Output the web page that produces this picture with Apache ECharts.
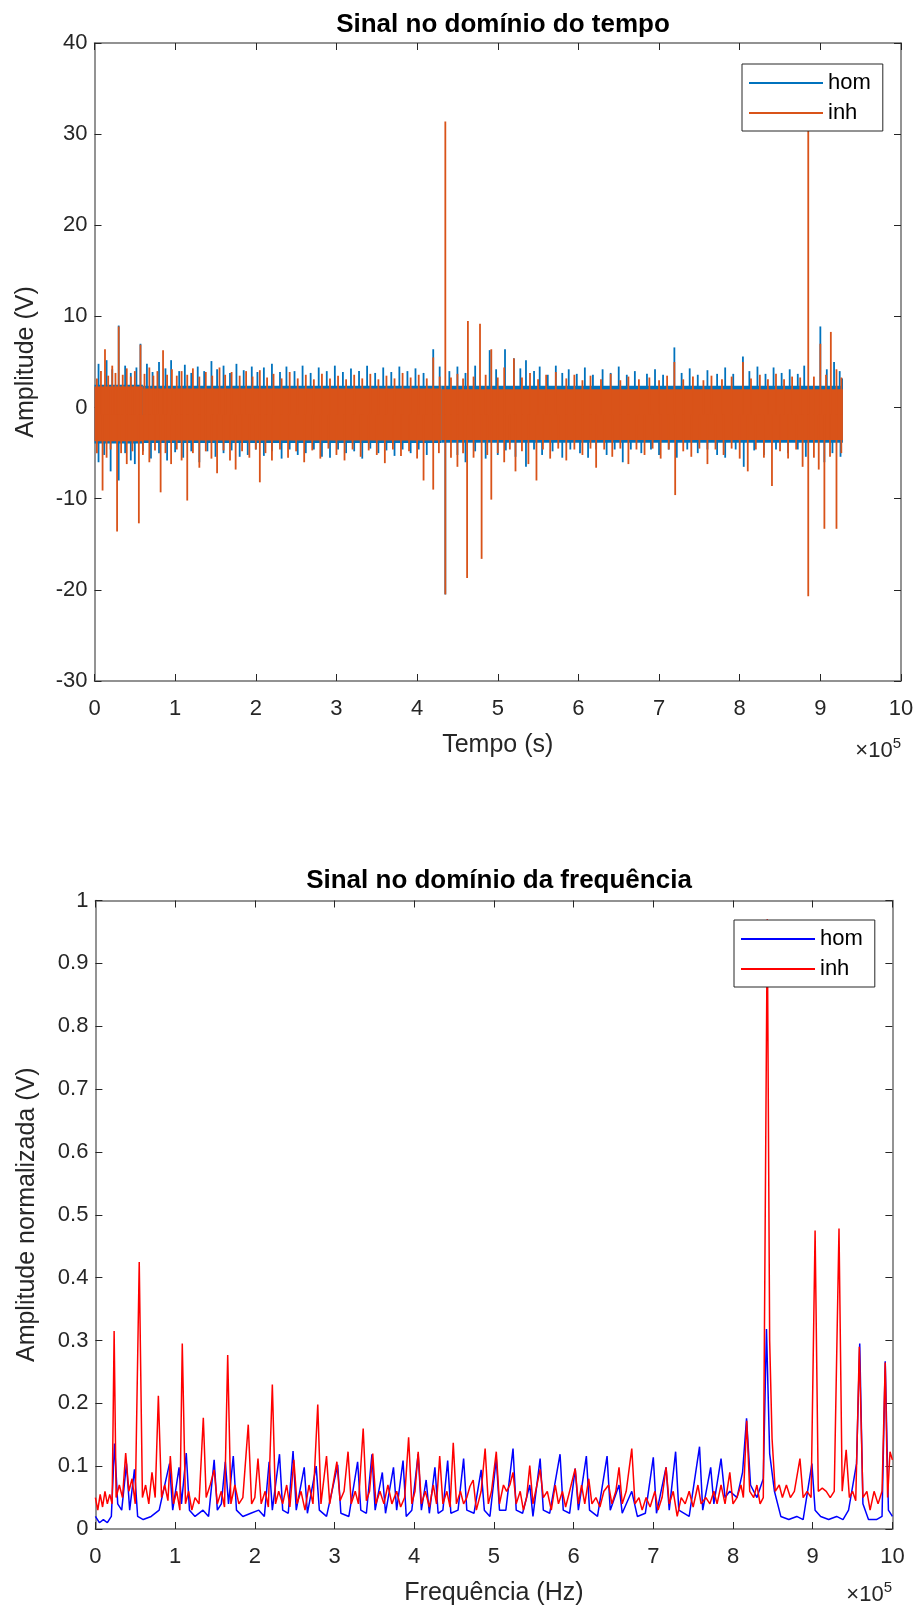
<!DOCTYPE html>
<html><head><meta charset="utf-8">
<script src="https://cdn.jsdelivr.net/npm/echarts/dist/echarts.min.js"></script>
<style>html,body{margin:0;padding:0;background:#fff}#c{width:918px;height:1610px}</style>
</head><body><div id="c"></div>
<script>
// ---------- DATA (time axis and frequency axis in units of 1e5) ----------
const seriesNames = ['hom', 'inh'];
const xTickLabels = ['0','1','2','3','4','5','6','7','8','9','10'];

// Time-domain signal: dense core band (segments) + individual excursions
const bandX = [0, 0.6, 4.3, 9.28];
const homHi = [2.5, 2.4, 2.4];
const homLo = [-3.95, -3.9, -3.85];
const inhHi = [2.3, 2.1, 2.0];
const inhLo = [-3.7, -3.6, -3.55];

const homUp = [[0.05,4.8],[0.15,5.2],[0.22,4.2],[0.3,9.0],[0.38,4.6],[0.45,3.8],[0.52,4.4],[0.57,7.0],[0.65,4.8],[0.72,3.9],[0.8,5.0],[0.88,4.3],[0.95,5.2],[1.05,4.0],[1.12,4.7],[1.2,3.8],[1.28,4.5],[1.36,4.0],[1.45,5.1],[1.52,4.2],[1.6,4.6],[1.68,3.8],[1.76,4.8],[1.85,4.1],[1.95,4.5],[2.02,3.9],[2.1,4.4],[2.2,4.8],[2.3,3.9],[2.38,4.5],[2.48,4.0],[2.58,4.6],[2.68,3.8],[2.78,4.4],[2.88,4.0],[2.98,4.6],[3.08,3.9],[3.18,4.3],[3.28,4.0],[3.38,4.6],[3.48,3.8],[3.58,4.4],[3.68,3.9],[3.78,4.5],[3.88,4.0],[3.98,4.3],[4.08,3.8],[4.2,6.4],[4.28,4.5],[4.4,4.0],[4.5,4.5],[4.6,3.8],[4.72,4.6],[4.9,6.3],[4.98,4.2],[5.09,6.4],[5.2,5.4],[5.28,4.3],[5.35,5.2],[5.45,4.0],[5.52,4.5],[5.62,3.6],[5.72,4.6],[5.8,3.8],[5.88,4.2],[5.98,3.7],[6.08,4.4],[6.18,3.6],[6.3,4.2],[6.4,3.8],[6.5,4.5],[6.6,3.6],[6.7,4.0],[6.85,3.7],[6.95,4.2],[7.05,3.6],[7.19,6.6],[7.28,3.8],[7.38,4.3],[7.48,3.6],[7.6,4.1],[7.72,3.7],[7.82,4.4],[7.92,3.7],[8.04,5.6],[8.12,4.0],[8.22,4.5],[8.32,3.7],[8.42,4.4],[8.52,3.8],[8.62,4.2],[8.72,3.7],[8.8,4.6],[9.0,8.9],[9.08,4.2],[9.17,5.0],[9.24,4.0],[9.27,3.2]];
const homDown = [[0.05,-6.0],[0.12,-5.2],[0.2,-7.0],[0.3,-8.0],[0.38,-5.0],[0.45,-5.8],[0.5,-6.2],[0.6,-4.8],[0.7,-5.6],[0.8,-5.0],[0.9,-5.8],[1.0,-4.9],[1.1,-5.5],[1.2,-4.8],[1.3,-6.0],[1.4,-4.8],[1.5,-5.4],[1.6,-5.0],[1.7,-4.7],[1.8,-5.4],[1.9,-5.2],[2.0,-4.6],[2.1,-5.3],[2.2,-4.8],[2.32,-5.6],[2.42,-4.6],[2.52,-5.2],[2.62,-5.0],[2.72,-4.6],[2.82,-5.4],[2.92,-5.5],[3.02,-4.6],[3.12,-5.0],[3.22,-4.8],[3.32,-5.6],[3.42,-4.5],[3.52,-5.0],[3.62,-4.7],[3.72,-5.3],[3.82,-4.6],[3.92,-5.0],[4.02,-4.6],[4.12,-5.2],[4.35,-20.5],[4.5,-5.2],[4.6,-6.0],[4.72,-4.8],[4.85,-5.6],[5.0,-5.2],[5.1,-4.7],[5.22,-5.4],[5.35,-6.5],[5.45,-4.6],[5.55,-5.2],[5.68,-4.8],[5.8,-5.5],[5.9,-4.6],[6.02,-5.0],[6.12,-5.5],[6.22,-4.6],[6.35,-5.2],[6.45,-4.6],[6.55,-6.0],[6.65,-4.6],[6.78,-5.0],[6.9,-4.6],[7.0,-5.2],[7.12,-4.6],[7.22,-5.5],[7.35,-4.6],[7.48,-5.0],[7.6,-4.6],[7.72,-5.2],[7.82,-5.5],[7.95,-4.6],[8.05,-6.5],[8.18,-4.7],[8.3,-5.2],[8.45,-4.6],[8.6,-5.0],[8.72,-4.6],[8.82,-5.4],[9.05,-6.0],[9.15,-5.0],[9.25,-5.4]];
const inhUp = [[0.03,3.2],[0.08,4.0],[0.13,6.4],[0.17,3.5],[0.22,4.6],[0.26,3.8],[0.3,8.9],[0.35,3.6],[0.4,4.3],[0.45,3.4],[0.5,4.0],[0.57,6.9],[0.62,3.7],[0.68,4.4],[0.73,3.5],[0.78,4.0],[0.85,6.3],[0.9,3.6],[0.96,4.2],[1.02,3.5],[1.08,4.0],[1.15,3.6],[1.22,4.3],[1.3,3.4],[1.38,3.9],[1.46,3.5],[1.55,4.4],[1.62,3.6],[1.7,3.9],[1.8,3.5],[1.88,4.0],[1.96,3.4],[2.05,4.1],[2.14,3.3],[2.22,3.7],[2.32,3.2],[2.42,3.9],[2.52,3.2],[2.62,3.6],[2.72,3.1],[2.82,3.7],[2.92,3.2],[3.02,3.5],[3.12,3.1],[3.22,3.6],[3.32,3.2],[3.42,3.7],[3.52,3.1],[3.62,3.5],[3.72,3.2],[3.82,3.8],[3.92,3.3],[4.02,3.6],[4.12,3.2],[4.2,5.5],[4.28,3.4],[4.35,31.4],[4.42,3.3],[4.5,3.7],[4.57,3.2],[4.63,9.5],[4.7,3.4],[4.78,9.2],[4.85,3.6],[4.92,6.4],[5.0,3.3],[5.08,4.4],[5.2,5.4],[5.3,3.3],[5.4,3.8],[5.5,3.1],[5.6,3.6],[5.72,3.9],[5.85,3.2],[5.95,3.6],[6.05,3.0],[6.15,3.5],[6.28,3.1],[6.4,3.7],[6.52,3.0],[6.62,3.4],[6.75,3.1],[6.88,3.3],[7.0,3.0],[7.1,3.5],[7.19,5.0],[7.3,3.1],[7.42,3.4],[7.55,3.0],[7.65,3.5],[7.78,3.1],[7.9,3.4],[8.04,5.0],[8.14,3.2],[8.25,3.6],[8.35,3.1],[8.45,3.7],[8.55,3.1],[8.65,3.4],[8.75,3.3],[8.85,31.2],[8.92,3.4],[9.0,7.0],[9.07,3.6],[9.13,8.3],[9.2,4.2],[9.26,3.3]];
const inhDown = [[0.03,-5.0],[0.1,-9.1],[0.15,-5.5],[0.2,-4.6],[0.28,-13.6],[0.33,-5.0],[0.4,-6.2],[0.47,-4.8],[0.55,-12.7],[0.6,-5.2],[0.68,-6.0],[0.75,-4.7],[0.82,-9.3],[0.88,-5.0],[0.95,-6.2],[1.02,-4.6],[1.08,-5.8],[1.15,-10.2],[1.22,-5.0],[1.3,-6.6],[1.38,-4.8],[1.45,-5.6],[1.52,-7.2],[1.6,-4.7],[1.68,-5.8],[1.75,-6.8],[1.83,-4.8],[1.92,-5.5],[2.0,-4.6],[2.05,-8.2],[2.12,-5.0],[2.2,-5.8],[2.3,-4.6],[2.4,-5.5],[2.5,-4.8],[2.6,-6.0],[2.7,-4.7],[2.8,-5.6],[2.9,-4.5],[3.0,-5.2],[3.1,-5.8],[3.2,-4.6],[3.3,-5.4],[3.4,-4.7],[3.5,-5.2],[3.6,-6.1],[3.7,-4.6],[3.8,-5.3],[3.9,-4.8],[4.0,-5.6],[4.08,-8.0],[4.2,-9.0],[4.27,-5.0],[4.35,-20.5],[4.42,-5.5],[4.5,-6.5],[4.57,-5.0],[4.62,-18.7],[4.7,-5.5],[4.8,-16.6],[4.87,-5.2],[4.92,-10.1],[5.0,-5.0],[5.08,-6.0],[5.15,-4.6],[5.22,-7.0],[5.3,-4.8],[5.38,-6.2],[5.48,-8.0],[5.56,-4.6],[5.65,-5.6],[5.75,-4.5],[5.85,-5.8],[5.95,-4.6],[6.05,-5.2],[6.15,-4.5],[6.22,-6.6],[6.32,-4.6],[6.42,-5.4],[6.52,-4.5],[6.62,-6.2],[6.72,-4.6],[6.82,-5.2],[6.92,-4.5],[7.02,-5.6],[7.12,-4.6],[7.2,-9.6],[7.3,-4.8],[7.4,-5.4],[7.5,-4.5],[7.6,-6.2],[7.7,-4.6],[7.8,-5.2],[7.9,-4.5],[8.0,-5.6],[8.1,-7.0],[8.2,-4.6],[8.3,-5.5],[8.4,-8.6],[8.5,-4.8],[8.6,-5.6],[8.7,-4.6],[8.78,-6.5],[8.85,-20.7],[8.92,-5.5],[8.98,-6.8],[9.05,-13.3],[9.12,-5.4],[9.2,-13.3],[9.26,-5.0]];

// Frequency-domain spectra [freq (x1e5 Hz), normalized amplitude]
const homSpec = [[0,0.02],[0.05,0.01],[0.1,0.015],[0.15,0.01],[0.2,0.02],[0.24,0.136],[0.28,0.04],[0.33,0.03],[0.39,0.104],[0.43,0.03],[0.49,0.095],[0.53,0.02],[0.6,0.015],[0.7,0.02],[0.8,0.03],[0.93,0.104],[0.97,0.03],[1.05,0.098],[1.08,0.04],[1.14,0.121],[1.18,0.03],[1.25,0.02],[1.35,0.03],[1.42,0.02],[1.49,0.11],[1.53,0.03],[1.58,0.04],[1.63,0.107],[1.67,0.04],[1.73,0.116],[1.77,0.03],[1.85,0.02],[1.95,0.025],[2.05,0.03],[2.12,0.02],[2.18,0.107],[2.22,0.03],[2.31,0.119],[2.35,0.03],[2.42,0.025],[2.48,0.124],[2.52,0.03],[2.62,0.098],[2.66,0.025],[2.77,0.1],[2.81,0.03],[2.9,0.02],[3.04,0.102],[3.08,0.025],[3.18,0.02],[3.29,0.107],[3.33,0.03],[3.4,0.025],[3.47,0.119],[3.51,0.03],[3.6,0.09],[3.64,0.025],[3.74,0.098],[3.78,0.03],[3.86,0.109],[3.9,0.02],[3.97,0.03],[4.05,0.119],[4.09,0.03],[4.15,0.078],[4.19,0.025],[4.26,0.098],[4.3,0.025],[4.36,0.03],[4.42,0.109],[4.46,0.025],[4.55,0.03],[4.62,0.112],[4.66,0.03],[4.75,0.025],[4.84,0.094],[4.88,0.03],[4.95,0.02],[5.03,0.112],[5.07,0.03],[5.15,0.03],[5.24,0.128],[5.28,0.03],[5.36,0.025],[5.45,0.07],[5.49,0.02],[5.58,0.112],[5.62,0.03],[5.7,0.025],[5.83,0.119],[5.87,0.03],[5.95,0.025],[6.02,0.096],[6.06,0.03],[6.16,0.116],[6.2,0.03],[6.3,0.02],[6.42,0.116],[6.46,0.03],[6.57,0.07],[6.61,0.025],[6.73,0.06],[6.8,0.02],[6.9,0.025],[7.0,0.114],[7.04,0.025],[7.16,0.098],[7.2,0.03],[7.28,0.123],[7.32,0.03],[7.45,0.02],[7.58,0.131],[7.62,0.03],[7.72,0.098],[7.76,0.04],[7.85,0.112],[7.9,0.05],[7.96,0.06],[8.05,0.05],[8.12,0.09],[8.17,0.176],[8.22,0.07],[8.3,0.05],[8.38,0.08],[8.42,0.318],[8.46,0.12],[8.52,0.06],[8.6,0.02],[8.7,0.015],[8.8,0.02],[8.88,0.015],[8.99,0.104],[9.03,0.03],[9.1,0.02],[9.2,0.015],[9.3,0.02],[9.38,0.015],[9.45,0.03],[9.55,0.104],[9.59,0.295],[9.63,0.04],[9.7,0.015],[9.8,0.015],[9.87,0.02],[9.91,0.267],[9.95,0.03],[10.0,0.02]];
const inhSpec = [[0,0.05],[0.03,0.03],[0.06,0.055],[0.09,0.035],[0.12,0.06],[0.15,0.04],[0.18,0.055],[0.21,0.04],[0.235,0.315],[0.26,0.05],[0.3,0.07],[0.34,0.05],[0.38,0.121],[0.42,0.06],[0.46,0.08],[0.5,0.04],[0.55,0.425],[0.59,0.05],[0.63,0.07],[0.67,0.04],[0.71,0.09],[0.75,0.05],[0.79,0.212],[0.83,0.05],[0.87,0.07],[0.91,0.045],[0.94,0.116],[0.98,0.04],[1.02,0.06],[1.06,0.03],[1.09,0.295],[1.13,0.04],[1.17,0.06],[1.21,0.03],[1.25,0.05],[1.3,0.04],[1.354,0.177],[1.39,0.05],[1.44,0.07],[1.49,0.094],[1.53,0.04],[1.58,0.06],[1.62,0.035],[1.66,0.277],[1.7,0.04],[1.75,0.07],[1.8,0.04],[1.85,0.05],[1.918,0.166],[1.96,0.04],[2.0,0.05],[2.04,0.112],[2.08,0.04],[2.13,0.06],[2.17,0.035],[2.22,0.23],[2.26,0.04],[2.3,0.06],[2.35,0.04],[2.4,0.07],[2.44,0.035],[2.49,0.11],[2.53,0.04],[2.58,0.06],[2.63,0.03],[2.68,0.07],[2.73,0.04],[2.79,0.198],[2.83,0.04],[2.9,0.116],[2.94,0.04],[3.03,0.107],[3.07,0.045],[3.12,0.06],[3.17,0.123],[3.21,0.04],[3.26,0.06],[3.3,0.04],[3.36,0.16],[3.4,0.045],[3.44,0.06],[3.48,0.12],[3.52,0.04],[3.57,0.06],[3.62,0.04],[3.67,0.07],[3.72,0.04],[3.78,0.06],[3.83,0.035],[3.88,0.05],[3.93,0.146],[3.97,0.04],[4.01,0.06],[4.05,0.123],[4.09,0.04],[4.14,0.06],[4.19,0.035],[4.24,0.07],[4.28,0.04],[4.32,0.116],[4.36,0.04],[4.41,0.06],[4.45,0.035],[4.49,0.137],[4.53,0.04],[4.58,0.06],[4.62,0.04],[4.66,0.05],[4.7,0.068],[4.74,0.078],[4.78,0.03],[4.84,0.06],[4.89,0.128],[4.93,0.04],[4.97,0.06],[5.03,0.123],[5.07,0.04],[5.12,0.07],[5.16,0.06],[5.2,0.07],[5.24,0.09],[5.28,0.04],[5.33,0.06],[5.37,0.03],[5.41,0.05],[5.45,0.101],[5.49,0.04],[5.54,0.07],[5.58,0.095],[5.62,0.05],[5.67,0.06],[5.72,0.03],[5.77,0.07],[5.81,0.04],[5.86,0.06],[5.9,0.035],[5.95,0.06],[6.02,0.096],[6.06,0.04],[6.1,0.07],[6.14,0.04],[6.19,0.08],[6.23,0.04],[6.28,0.05],[6.33,0.035],[6.38,0.06],[6.44,0.07],[6.48,0.04],[6.53,0.06],[6.57,0.098],[6.61,0.04],[6.66,0.06],[6.73,0.128],[6.77,0.04],[6.82,0.05],[6.86,0.03],[6.91,0.05],[6.96,0.035],[7.02,0.06],[7.06,0.03],[7.11,0.05],[7.16,0.098],[7.2,0.04],[7.25,0.06],[7.3,0.02],[7.35,0.05],[7.4,0.04],[7.45,0.06],[7.5,0.035],[7.56,0.07],[7.6,0.04],[7.66,0.05],[7.71,0.04],[7.76,0.06],[7.8,0.04],[7.85,0.07],[7.9,0.04],[7.96,0.09],[8.0,0.04],[8.05,0.05],[8.1,0.07],[8.13,0.05],[8.172,0.172],[8.21,0.06],[8.26,0.05],[8.3,0.07],[8.34,0.04],[8.38,0.05],[8.43,0.97],[8.46,0.3],[8.49,0.144],[8.53,0.06],[8.58,0.07],[8.62,0.05],[8.67,0.07],[8.72,0.05],[8.77,0.06],[8.84,0.112],[8.88,0.05],[8.93,0.06],[8.98,0.05],[9.03,0.475],[9.07,0.06],[9.12,0.065],[9.17,0.06],[9.22,0.05],[9.27,0.06],[9.33,0.478],[9.37,0.06],[9.42,0.126],[9.46,0.05],[9.5,0.06],[9.54,0.045],[9.585,0.29],[9.63,0.05],[9.68,0.06],[9.72,0.03],[9.77,0.06],[9.82,0.04],[9.87,0.06],[9.91,0.265],[9.94,0.05],[9.97,0.123],[10.0,0.11]];

// ---------- CHART ----------
const FONT = 'Liberation Sans, Arial, Helvetica, sans-serif';
const C = { homT:'#0072BD', inhT:'#D95319', homF:'#0000FF', inhF:'#FF0000', axis:'#6f6f6f', text:'#262626' };
const SPIKE_BASE = -0.8;

function bandData(hi, lo){ return hi.map((h,i)=>[bandX[i], bandX[i+1], h, lo[i]]); }
function bandSeries(name, hi, lo, color){
  return { type:'custom', name, xAxisIndex:0, yAxisIndex:0, itemStyle:{color}, clip:true,
    encode:{x:[0,1], y:[2,3]}, data: bandData(hi, lo),
    renderItem(p, api){
      const a = api.coord([api.value(0), api.value(2)]), b = api.coord([api.value(1), api.value(3)]);
      return { type:'rect', shape:{x:a[0], y:a[1], width:b[0]-a[0], height:b[1]-a[1]}, style:{fill:color} };
    } };
}
function spikeSeries(name, pts, color){
  return { type:'custom', name, xAxisIndex:0, yAxisIndex:0, itemStyle:{color}, clip:true,
    encode:{x:0, y:1}, data: pts,
    renderItem(p, api){
      const a = api.coord([api.value(0), SPIKE_BASE]), b = api.coord([api.value(0), api.value(1)]);
      return { type:'line', shape:{x1:a[0], y1:a[1], x2:b[0], y2:b[1]}, style:{stroke:color, lineWidth:1.8} };
    } };
}

const axLine = { show:true, onZero:false, lineStyle:{ color:C.axis, width:1.5 } };
const tick = (len)=>({ show:true, inside:true, length:len, lineStyle:{ color:'#262626', width:1 } });
const lbl = { color:C.text, fontSize:22, fontFamily:FONT };
function xAxes(grid){
  return [
    { type:'value', gridIndex:grid, position:'bottom', min:0, max:10, interval:1, axisLine:axLine, axisTick:tick(7), splitLine:{show:false},
      axisLabel:{...lbl, margin:17, formatter:(v)=>xTickLabels[Math.round(v)]},
      name: grid===0 ? 'Tempo (s)' : 'Frequência (Hz)', nameLocation:'middle', nameGap: 52,
      nameTextStyle:{ color:C.text, fontSize:25, fontFamily:FONT } },
    { type:'value', gridIndex:grid, position:'top', min:0, max:10, interval:1, axisLine:axLine, axisTick:tick(7), axisLabel:{show:false}, splitLine:{show:false} }
  ];
}
function yAxes(grid, min, max, interval, name, fmt){
  return [
    { type:'value', gridIndex:grid, position:'left', min, max, interval, axisLine:axLine, axisTick:tick(7), splitLine:{show:false},
      axisLabel:{...lbl, margin:7, formatter:fmt},
      name, nameLocation:'middle', nameGap: 56, nameRotate:90,
      nameTextStyle:{ color:C.text, fontSize:25, fontFamily:FONT } },
    { type:'value', gridIndex:grid, position:'right', min, max, interval, axisLine:axLine, axisTick:tick(7), axisLabel:{show:false}, splitLine:{show:false} }
  ];
}

const legendBase = { orient:'vertical', icon:'rect', itemWidth:74, itemHeight:2, itemGap:8,
  padding:[8,12,7,7], borderColor:'#262626', borderWidth:1, backgroundColor:'#fff', selectedMode:false,
  textStyle:{ fontSize:22, color:'#000', fontFamily:FONT }, formatter:(n)=>n.trim() };

const supText = { a:{fontSize:22, fontFamily:FONT, fill:C.text}, b:{fontSize:15, fontFamily:FONT, fill:C.text, padding:[0,0,14,0]} };

const option = {
  animation:false,
  backgroundColor:'#fff',
  title:[
    { text:'Sinal no domínio do tempo', left:498, top:7, textAlign:'center', textStyle:{ fontSize:26, fontWeight:'bold', color:'#000', fontFamily:FONT } },
    { text:'Sinal no domínio da frequência', left:494, top:863, textAlign:'center', textStyle:{ fontSize:26, fontWeight:'bold', color:'#000', fontFamily:FONT } }
  ],
  legend:[
    { ...legendBase, data:['hom','inh'], left:742, top:64 },
    { ...legendBase, data:['hom ','inh '], left:734, top:920 }
  ],
  grid:[
    { left:94.5, top:43, width:806.5, height:638 },
    { left:95.4, top:900.5, width:797, height:628.5 }
  ],
  xAxis:[ ...xAxes(0), ...xAxes(1) ],
  yAxis:[ ...yAxes(0, -30, 40, 10, 'Amplitude (V)', (v)=>String(v)),
          ...yAxes(1, 0, 1, 0.1, 'Amplitude normalizada (V)', (v)=>String(Math.round(v*10)/10)) ],
  series:[
    bandSeries(seriesNames[0], homHi, homLo, C.homT),
    spikeSeries(seriesNames[0], homUp, C.homT),
    spikeSeries(seriesNames[0], homDown, C.homT),
    bandSeries(seriesNames[1], inhHi, inhLo, C.inhT),
    spikeSeries(seriesNames[1], inhUp, C.inhT),
    spikeSeries(seriesNames[1], inhDown, C.inhT),
    { type:'line', name:seriesNames[0]+' ', xAxisIndex:2, yAxisIndex:2, data:homSpec, showSymbol:false, symbol:'none',
      lineStyle:{ color:C.homF, width:1.5 }, itemStyle:{color:C.homF} },
    { type:'line', name:seriesNames[1]+' ', xAxisIndex:2, yAxisIndex:2, data:inhSpec, showSymbol:false, symbol:'none',
      lineStyle:{ color:C.inhF, width:1.5 }, itemStyle:{color:C.inhF} }
  ],
  graphic:[
    { type:'text', right:17, top:736, style:{ text:'{a|×10}{b|5}', rich:supText } },
    { type:'text', right:26, top:1580, style:{ text:'{a|×10}{b|5}', rich:supText } }
  ]
};
const chart = echarts.init(document.getElementById('c'), null, { renderer:'canvas' });
chart.setOption(option);
</script></body></html>
